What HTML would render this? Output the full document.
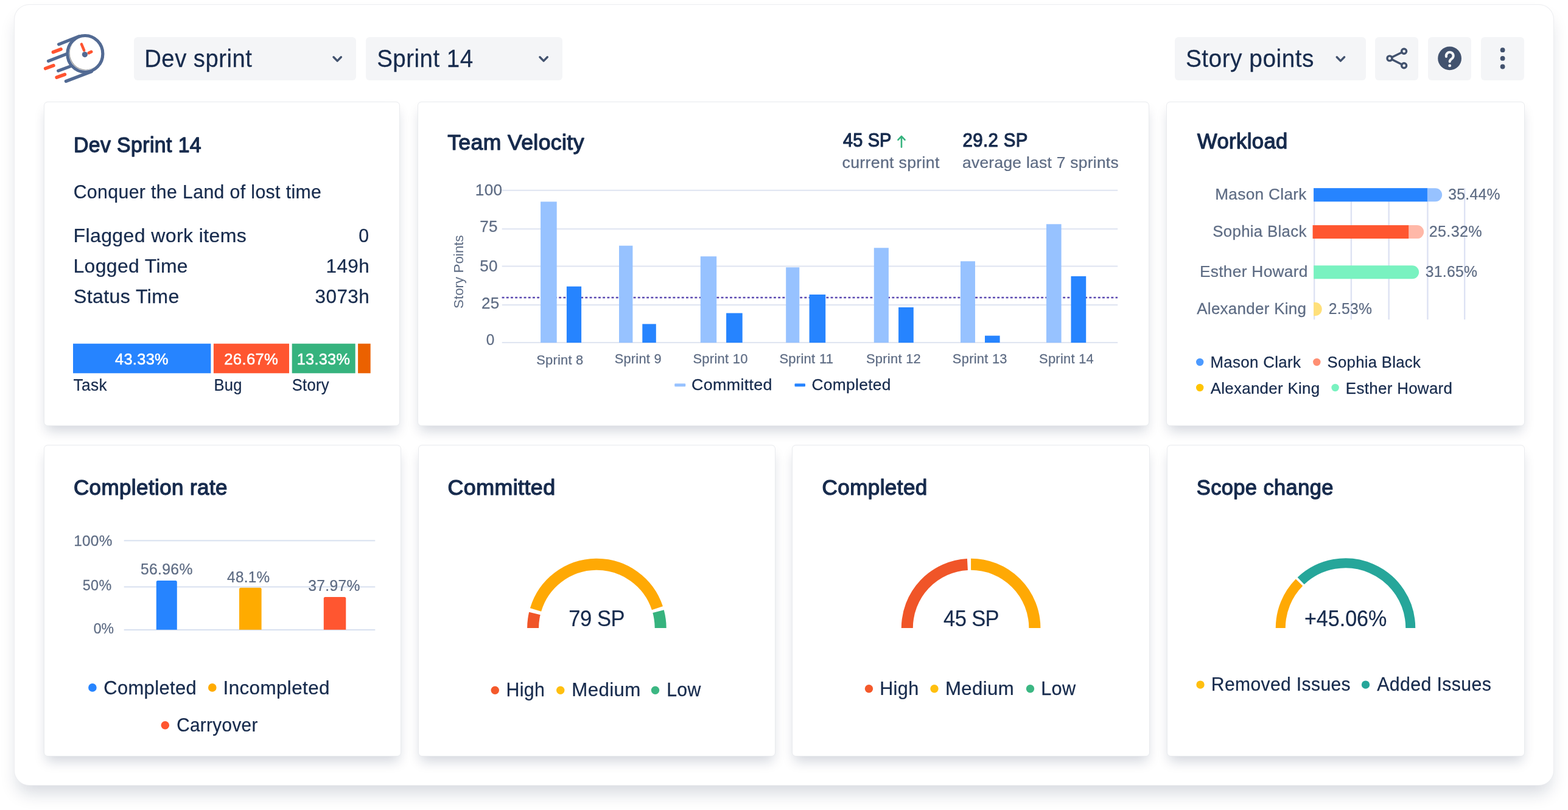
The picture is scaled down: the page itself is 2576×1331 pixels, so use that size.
<!DOCTYPE html>
<html lang="en"><head><meta charset="utf-8"><title>Sprint dashboard</title>
<style>
html,body{margin:0;padding:0;background:#fff}
body{width:2576px;height:1331px;position:relative;overflow:hidden;font-family:"Liberation Sans", sans-serif;color:#172B4D}
svg{position:absolute;left:0;top:0;overflow:visible}
svg text{font-family:"Liberation Sans", sans-serif;white-space:pre}

.frame{position:absolute;left:23px;top:7px;width:2530px;height:1284px;background:#fff;border-radius:25px;box-sizing:border-box;border:1px solid rgba(9,30,66,.08);
 box-shadow:0 18px 28px -6px rgba(9,30,66,.17)}
.hdr{left:0;top:0}
.btn{position:absolute;background:#F4F5F7;border-radius:6px}
.card{position:absolute;background:#fff;border-radius:6.5px;margin:0;box-sizing:border-box;border:1px solid rgba(9,30,66,.09);
 box-shadow:0 12px 20px -4px rgba(9,30,66,.18)}
.card>svg{left:-1px;top:-1px}
</style></head>
<body>
<main class="frame"></main>
<header><div class="btn" style="left:220px;top:61px;width:365px;height:71px"></div><div class="btn" style="left:601px;top:61px;width:323px;height:71px"></div><div class="btn" style="left:1930px;top:61px;width:314px;height:71px"></div><div class="btn" style="left:2259px;top:61px;width:71px;height:71px"></div><div class="btn" style="left:2346px;top:61px;width:71px;height:71px"></div><div class="btn" style="left:2433px;top:61px;width:71px;height:71px"></div><svg width="2576" height="166" viewBox="0 0 2576 166"><path d="M548.0 93.7 L554.2 100.1 L560.4 93.7" fill="none" stroke="#42526E" stroke-width="3.4" stroke-linecap="round" stroke-linejoin="round"/><path d="M886.9 93.7 L893.1 100.1 L899.3 93.7" fill="none" stroke="#42526E" stroke-width="3.4" stroke-linecap="round" stroke-linejoin="round"/><path d="M2196.2 93.7 L2202.4 100.1 L2208.6 93.7" fill="none" stroke="#42526E" stroke-width="3.4" stroke-linecap="round" stroke-linejoin="round"/><g fill="none" stroke="#42526E" stroke-width="3.4"><path d="M2303.2 86 L2286.4 94.3 M2286.4 97.6 L2303.2 106" stroke-linecap="round"/><circle cx="2306.6" cy="84.3" r="4"/><circle cx="2283" cy="95.9" r="4"/><circle cx="2306.6" cy="107.7" r="4"/></g><circle cx="2381.6" cy="95.9" r="19.4" fill="#42526E"/><path d="M2376 93 A5.9 5.9 0 1 1 2386.3 95.4 C2384.2 97.3 2381.7 98.4 2381.7 101.3" fill="none" stroke="#F4F5F7" stroke-width="4.1" stroke-linecap="round"/><circle cx="2381.7" cy="107.9" r="2.45" fill="#F4F5F7"/><circle cx="2468.6" cy="82.2" r="3.9" fill="#42526E"/><circle cx="2468.6" cy="95.9" r="3.9" fill="#42526E"/><circle cx="2468.6" cy="109.5" r="3.9" fill="#42526E"/><g fill="none" stroke-linecap="round"><ellipse cx="139.85" cy="88.4" rx="26" ry="26.9" fill="#9C9C9C" stroke="none"/><ellipse cx="141.1" cy="87.2" rx="26.3" ry="27.2" fill="#fff" stroke="none"/><g stroke="#526A93" stroke-width="5.2"><ellipse cx="139.85" cy="88.4" rx="29" ry="29.9"/><path d="M96.6 72.8 L130 59.6 M79.5 100.3 L110.3 88.3 M95.7 116.4 L115.2 109.1 M108.4 133.5 L150.4 117.5"/></g><g stroke="#FF5330" stroke-width="5.6"><path d="M87.4 85.7 L100 80.8 M74.7 112.5 L87.9 107.6 M93.2 127.2 L106.4 122.3"/></g><path d="M133.9 72.6 L138.1 82.6" stroke="#FF5330" stroke-width="4.5"/><path d="M146 86.9 L150 85.1" stroke="#FF5330" stroke-width="4.9"/><circle cx="139.4" cy="89.6" r="4.6" fill="#526A93" stroke="none"/></g><text transform="translate(237.26 109.90) scale(0.9522 1)" font-size="40.19" fill="#172B4D" letter-spacing="0.506" stroke="#172B4D" stroke-width="0.25" stroke-linejoin="round">Dev sprint</text><text transform="translate(619.16 109.90) scale(0.9583 1)" font-size="40.19" fill="#172B4D" letter-spacing="0.503" stroke="#172B4D" stroke-width="0.25" stroke-linejoin="round">Sprint 14</text><text transform="translate(1947.90 109.90) scale(0.9675 1)" font-size="40.19" fill="#172B4D" letter-spacing="0.498" stroke="#172B4D" stroke-width="0.25" stroke-linejoin="round">Story points</text></svg></header>
<section class="card" style="left:72px;top:167px;width:585px;height:533px"><svg width="585" height="533" viewBox="72 166.5 585 533"><rect x="120.00" y="564.20" width="226.40" height="48.60" fill="#2684FF"/><rect x="350.90" y="564.20" width="124.10" height="48.60" fill="#FF5630"/><rect x="479.70" y="564.20" width="104.00" height="48.60" fill="#36B37E"/><rect x="588.10" y="564.20" width="20.60" height="48.60" fill="#EB6100"/><text transform="translate(120.95 249.40) scale(0.9706 1)" font-size="34.81" fill="#172B4D" letter-spacing="0.430" stroke="#172B4D" stroke-width="1.33" stroke-linejoin="round">Dev Sprint 14</text><text transform="translate(120.65 325.00) scale(0.9760 1)" font-size="31.01" fill="#172B4D" letter-spacing="0.381" stroke="#172B4D" stroke-width="0.25" stroke-linejoin="round">Conquer the Land of lost time</text><text transform="translate(120.47 397.00) scale(1.0312 1)" font-size="31.11" fill="#172B4D" letter-spacing="0.362" stroke="#172B4D" stroke-width="0.25" stroke-linejoin="round">Flagged work items</text><text transform="translate(589.15 397.00) scale(0.9700 1)" font-size="31.11" fill="#172B4D" letter-spacing="0.000" stroke="#172B4D" stroke-width="0.25" stroke-linejoin="round">0</text><text transform="translate(120.48 447.00) scale(1.0253 1)" font-size="31.11" fill="#172B4D" letter-spacing="0.364" stroke="#172B4D" stroke-width="0.25" stroke-linejoin="round">Logged Time</text><text transform="translate(535.60 447.00) scale(1.0110 1)" font-size="31.11" fill="#172B4D" letter-spacing="0.369" stroke="#172B4D" stroke-width="0.25" stroke-linejoin="round">149h</text><text transform="translate(120.90 497.00) scale(1.0335 1)" font-size="31.11" fill="#172B4D" letter-spacing="0.361" stroke="#172B4D" stroke-width="0.25" stroke-linejoin="round">Status Time</text><text transform="translate(517.61 497.00) scale(1.0124 1)" font-size="31.11" fill="#172B4D" letter-spacing="0.369" stroke="#172B4D" stroke-width="0.25" stroke-linejoin="round">3073h</text><text transform="translate(189.01 598.20) scale(0.9945 1)" font-size="25.56" fill="#FFFFFF" letter-spacing="0.308" stroke="#FFFFFF" stroke-width="0.51" stroke-linejoin="round">43.33%</text><text transform="translate(368.25 598.20) scale(1.0061 1)" font-size="25.56" fill="#FFFFFF" letter-spacing="0.305" stroke="#FFFFFF" stroke-width="0.51" stroke-linejoin="round">26.67%</text><text transform="translate(487.66 598.20) scale(0.9897 1)" font-size="25.56" fill="#FFFFFF" letter-spacing="0.310" stroke="#FFFFFF" stroke-width="0.51" stroke-linejoin="round">13.33%</text><text transform="translate(120.62 641.10) scale(0.9762 1)" font-size="26.93" fill="#172B4D" letter-spacing="0.331" stroke="#172B4D" stroke-width="0.25" stroke-linejoin="round">Task</text><text transform="translate(351.47 641.10) scale(0.9489 1)" font-size="26.93" fill="#172B4D" letter-spacing="0.341" stroke="#172B4D" stroke-width="0.25" stroke-linejoin="round">Bug</text><text transform="translate(479.67 641.10) scale(0.9499 1)" font-size="26.93" fill="#172B4D" letter-spacing="0.340" stroke="#172B4D" stroke-width="0.25" stroke-linejoin="round">Story</text></svg></section>
<section class="card" style="left:686px;top:167px;width:1202px;height:533px"><svg width="1202" height="533" viewBox="686 166.5 1202 533"><rect x="824.7" y="311.25" width="1011.5" height="2" fill="#DEE4F1"/><rect x="824.7" y="374.75" width="1011.5" height="2" fill="#DEE4F1"/><rect x="824.7" y="436.00" width="1011.5" height="2" fill="#DEE4F1"/><rect x="824.7" y="499.60" width="1011.5" height="2" fill="#DEE4F1"/><rect x="824.7" y="561.40" width="1011.5" height="2" fill="#DEE4F1"/><line x1="824.6" x2="1836" y1="488.5" y2="488.5" stroke="#5A48B0" stroke-width="2.4" stroke-dasharray="3.9 3.3"/><rect x="888.10" y="330.90" width="26.60" height="231.70" fill="#97C2FF"/><rect x="930.90" y="470.20" width="24.20" height="92.40" fill="#2684FF"/><rect x="1017.00" y="403.20" width="22.40" height="159.40" fill="#97C2FF"/><rect x="1055.30" y="531.90" width="22.50" height="30.70" fill="#2684FF"/><rect x="1150.80" y="420.80" width="26.40" height="141.80" fill="#97C2FF"/><rect x="1193.10" y="514.00" width="26.60" height="48.60" fill="#2684FF"/><rect x="1291.20" y="438.80" width="22.10" height="123.80" fill="#97C2FF"/><rect x="1329.60" y="483.50" width="26.60" height="79.10" fill="#2684FF"/><rect x="1435.80" y="406.80" width="24.10" height="155.80" fill="#97C2FF"/><rect x="1476.10" y="504.50" width="24.70" height="58.10" fill="#2684FF"/><rect x="1578.00" y="428.80" width="24.00" height="133.80" fill="#97C2FF"/><rect x="1618.00" y="551.10" width="24.60" height="11.50" fill="#2684FF"/><rect x="1719.00" y="367.80" width="24.60" height="194.80" fill="#97C2FF"/><rect x="1759.50" y="453.40" width="24.70" height="109.20" fill="#2684FF"/><rect x="1108.25" y="629.70" width="18.00" height="5.10" fill="#97C2FF" rx="1.2"/><rect x="1305.50" y="629.70" width="17.50" height="5.10" fill="#2684FF" rx="1.2"/><path d="M1481 241.2 V223.6 M1475.4 229.4 L1481 223.4 L1486.6 229.4" fill="none" stroke="#36B37E" stroke-width="2.6" stroke-linecap="round" stroke-linejoin="round"/><text transform="translate(735.18 245.10) scale(1.0037 1)" font-size="35.40" fill="#172B4D" letter-spacing="0.423" stroke="#172B4D" stroke-width="1.35" stroke-linejoin="round">Team Velocity</text><text transform="translate(1384.95 240.90) scale(0.9400 1)" font-size="30.83" fill="#172B4D" letter-spacing="0.146" stroke="#172B4D" stroke-width="1.18" stroke-linejoin="round">45 SP</text><text transform="translate(1383.48 275.40) scale(1.0483 1)" font-size="25.50" fill="#5E6C84" letter-spacing="0.292" stroke="#5E6C84" stroke-width="0.25" stroke-linejoin="round">current sprint</text><text transform="translate(1581.51 240.90) scale(0.9540 1)" font-size="30.83" fill="#172B4D" letter-spacing="0.388" stroke="#172B4D" stroke-width="1.18" stroke-linejoin="round">29.2 SP</text><text transform="translate(1581.00 275.40) scale(1.0332 1)" font-size="25.50" fill="#5E6C84" letter-spacing="0.296" stroke="#5E6C84" stroke-width="0.25" stroke-linejoin="round">average last 7 sprints</text><text transform="translate(780.84 320.50) scale(1.0437 1)" font-size="25.09" fill="#5E6C84" letter-spacing="0.289" stroke="#5E6C84" stroke-width="0.25" stroke-linejoin="round">100</text><text transform="translate(788.34 380.70) scale(1.0382 1)" font-size="25.09" fill="#5E6C84" letter-spacing="0.290" stroke="#5E6C84" stroke-width="0.25" stroke-linejoin="round">75</text><text transform="translate(788.34 445.10) scale(1.0382 1)" font-size="25.09" fill="#5E6C84" letter-spacing="0.290" stroke="#5E6C84" stroke-width="0.25" stroke-linejoin="round">50</text><text transform="translate(791.09 506.50) scale(1.0382 1)" font-size="25.09" fill="#5E6C84" letter-spacing="0.290" stroke="#5E6C84" stroke-width="0.25" stroke-linejoin="round">25</text><text transform="translate(798.87 566.70) scale(0.9700 1)" font-size="25.09" fill="#5E6C84" letter-spacing="0.000" stroke="#5E6C84" stroke-width="0.25" stroke-linejoin="round">0</text><text transform="translate(881.14 598.05) scale(0.9823 1)" font-size="22.24" fill="#5E6C84" letter-spacing="0.272" stroke="#5E6C84" stroke-width="0.25" stroke-linejoin="round">Sprint 8</text><text transform="translate(1009.64 596.30) scale(0.9790 1)" font-size="22.24" fill="#5E6C84" letter-spacing="0.273" stroke="#5E6C84" stroke-width="0.25" stroke-linejoin="round">Sprint 9</text><text transform="translate(1138.38 596.30) scale(0.9891 1)" font-size="22.24" fill="#5E6C84" letter-spacing="0.270" stroke="#5E6C84" stroke-width="0.25" stroke-linejoin="round">Sprint 10</text><text transform="translate(1280.38 596.30) scale(0.9906 1)" font-size="22.24" fill="#5E6C84" letter-spacing="0.269" stroke="#5E6C84" stroke-width="0.25" stroke-linejoin="round">Sprint 11</text><text transform="translate(1422.94 596.30) scale(0.9857 1)" font-size="22.24" fill="#5E6C84" letter-spacing="0.271" stroke="#5E6C84" stroke-width="0.25" stroke-linejoin="round">Sprint 12</text><text transform="translate(1564.84 596.30) scale(0.9845 1)" font-size="22.24" fill="#5E6C84" letter-spacing="0.271" stroke="#5E6C84" stroke-width="0.25" stroke-linejoin="round">Sprint 13</text><text transform="translate(1707.04 596.30) scale(0.9845 1)" font-size="22.24" fill="#5E6C84" letter-spacing="0.271" stroke="#5E6C84" stroke-width="0.25" stroke-linejoin="round">Sprint 14</text><text transform="translate(1136.11 640.55) scale(1.0139 1)" font-size="26.52" fill="#172B4D" letter-spacing="0.314" stroke="#172B4D" stroke-width="0.25" stroke-linejoin="round">Committed</text><text transform="translate(1333.38 640.55) scale(0.9951 1)" font-size="26.52" fill="#172B4D" letter-spacing="0.320" stroke="#172B4D" stroke-width="0.25" stroke-linejoin="round">Completed</text><text transform="translate(760.5 506.47) rotate(-90) scale(0.97 1)" font-size="22.95" fill="#5E6C84" letter-spacing="0.068">Story Points</text></svg></section>
<section class="card" style="left:1916px;top:167px;width:589px;height:533px"><svg width="589" height="533" viewBox="1915.6 166.5 589 533"><rect x="2157.55" y="308.6" width="2.4" height="216" fill="#DDE2F3"/><rect x="2218.3" y="308.6" width="2.4" height="216" fill="#DDE2F3"/><rect x="2280.05" y="308.6" width="2.4" height="216" fill="#DDE2F3"/><rect x="2343.8" y="308.6" width="2.4" height="216" fill="#DDE2F3"/><rect x="2404.55" y="308.6" width="2.4" height="216" fill="#DDE2F3"/><path d="M2157.75 308.7 H2357.75 A11.00 11.00 0 0 1 2357.75 330.7 H2157.75 Z" fill="#97C2FF"/><rect x="2157.75" y="308.70" width="186.75" height="22.00" fill="#2684FF"/><path d="M2156.25 369.6 H2327.75 A11.00 11.00 0 0 1 2327.75 391.6 H2156.25 Z" fill="#FFB8A8"/><rect x="2156.25" y="369.60" width="157.50" height="22.00" fill="#FF5630"/><path d="M2157.75 435.7 H2319.75 A11.00 11.00 0 0 1 2319.75 457.7 H2157.75 Z" fill="#79F2C0"/><path d="M2157.75 496.3 H2160.15 A11.15 11.15 0 0 1 2160.15 518.6 H2157.75 Z" fill="#FFE07A"/><circle cx="1970.8" cy="594.5" r="6.2" fill="#4C9AFF"/><circle cx="2162.9" cy="594.5" r="6.2" fill="#FF8F73"/><circle cx="1970.8" cy="636.5" r="6.2" fill="#FFC400"/><circle cx="2193.2" cy="636.5" r="6.2" fill="#79F2C0"/><text transform="translate(1966.56 243.90) scale(0.9939 1)" font-size="34.81" fill="#172B4D" letter-spacing="0.420" stroke="#172B4D" stroke-width="1.33" stroke-linejoin="round">Workload</text><text transform="translate(1995.81 327.30) scale(1.0371 1)" font-size="25.30" fill="#5E6C84" letter-spacing="0.293" stroke="#5E6C84" stroke-width="0.25" stroke-linejoin="round">Mason Clark</text><text transform="translate(1991.86 388.55) scale(1.0220 1)" font-size="25.30" fill="#5E6C84" letter-spacing="0.297" stroke="#5E6C84" stroke-width="0.25" stroke-linejoin="round">Sophia Black</text><text transform="translate(1970.55 454.30) scale(1.0393 1)" font-size="25.30" fill="#5E6C84" letter-spacing="0.292" stroke="#5E6C84" stroke-width="0.25" stroke-linejoin="round">Esther Howard</text><text transform="translate(1965.88 515.55) scale(1.0243 1)" font-size="25.30" fill="#5E6C84" letter-spacing="0.296" stroke="#5E6C84" stroke-width="0.25" stroke-linejoin="round">Alexander King</text><text transform="translate(2378.87 327.30) scale(0.9762 1)" font-size="25.30" fill="#5E6C84" letter-spacing="0.311" stroke="#5E6C84" stroke-width="0.25" stroke-linejoin="round">35.44%</text><text transform="translate(2347.38 388.55) scale(0.9937 1)" font-size="25.30" fill="#5E6C84" letter-spacing="0.305" stroke="#5E6C84" stroke-width="0.25" stroke-linejoin="round">25.32%</text><text transform="translate(2341.37 454.30) scale(0.9762 1)" font-size="25.30" fill="#5E6C84" letter-spacing="0.311" stroke="#5E6C84" stroke-width="0.25" stroke-linejoin="round">31.65%</text><text transform="translate(2182.40 515.55) scale(0.9763 1)" font-size="25.30" fill="#5E6C84" letter-spacing="0.311" stroke="#5E6C84" stroke-width="0.25" stroke-linejoin="round">2.53%</text><text transform="translate(1988.07 603.60) scale(0.9756 1)" font-size="26.52" fill="#172B4D" letter-spacing="0.326" stroke="#172B4D" stroke-width="0.25" stroke-linejoin="round">Mason Clark</text><text transform="translate(2180.15 603.60) scale(0.9679 1)" font-size="26.52" fill="#172B4D" letter-spacing="0.329" stroke="#172B4D" stroke-width="0.25" stroke-linejoin="round">Sophia Black</text><text transform="translate(1988.32 646.50) scale(0.9745 1)" font-size="26.52" fill="#172B4D" letter-spacing="0.327" stroke="#172B4D" stroke-width="0.25" stroke-linejoin="round">Alexander King</text><text transform="translate(2210.47 646.50) scale(0.9769 1)" font-size="26.52" fill="#172B4D" letter-spacing="0.326" stroke="#172B4D" stroke-width="0.25" stroke-linejoin="round">Esther Howard</text></svg></section>
<section class="card" style="left:72px;top:731px;width:587px;height:512px"><svg width="587" height="512" viewBox="72 731.4 587 512"><rect x="203.7" y="887.80" width="412.59999999999997" height="2" fill="#D8E0EF"/><rect x="203.7" y="963.80" width="412.59999999999997" height="2" fill="#D8E0EF"/><rect x="203.7" y="1034.40" width="412.59999999999997" height="2" fill="#D8E0EF"/><path d="M256.8 1035.2 V956.8 Q256.8 954.3 259.3 954.3 H288.3 Q290.8 954.3 290.8 956.8 V1035.2 Z" fill="#2684FF"/><path d="M393 1035.2 V968.7 Q393 966.2 395.5 966.2 H427.1 Q429.6 966.2 429.6 968.7 V1035.2 Z" fill="#FFAB00"/><path d="M531.8 1035.2 V983.8 Q531.8 981.3 534.3 981.3 H565.8 Q568.3 981.3 568.3 983.8 V1035.2 Z" fill="#FF5630"/><circle cx="151.9" cy="1130.3" r="6.8" fill="#2684FF"/><circle cx="348.8" cy="1130.3" r="6.8" fill="#FFAB00"/><circle cx="271.3" cy="1192.2" r="6.8" fill="#FF5630"/><text transform="translate(120.91 813.30) scale(1.0049 1)" font-size="34.81" fill="#172B4D" letter-spacing="0.416" stroke="#172B4D" stroke-width="1.33" stroke-linejoin="round">Completion rate</text><text transform="translate(121.13 897.00) scale(0.9966 1)" font-size="24.48" fill="#5E6C84" letter-spacing="0.295" stroke="#5E6C84" stroke-width="0.25" stroke-linejoin="round">100%</text><text transform="translate(135.87 970.50) scale(0.9525 1)" font-size="24.48" fill="#5E6C84" letter-spacing="0.308" stroke="#5E6C84" stroke-width="0.25" stroke-linejoin="round">50%</text><text transform="translate(153.87 1041.25) scale(0.9400 1)" font-size="24.48" fill="#5E6C84" letter-spacing="-0.284" stroke="#5E6C84" stroke-width="0.25" stroke-linejoin="round">0%</text><text transform="translate(230.89 944.25) scale(0.9880 1)" font-size="25.09" fill="#5E6C84" letter-spacing="0.305" stroke="#5E6C84" stroke-width="0.25" stroke-linejoin="round">56.96%</text><text transform="translate(373.12 957.50) scale(0.9681 1)" font-size="25.09" fill="#5E6C84" letter-spacing="0.311" stroke="#5E6C84" stroke-width="0.25" stroke-linejoin="round">48.1%</text><text transform="translate(506.37 971.25) scale(0.9822 1)" font-size="25.09" fill="#5E6C84" letter-spacing="0.307" stroke="#5E6C84" stroke-width="0.25" stroke-linejoin="round">37.97%</text><text transform="translate(170.24 1141.10) scale(0.9776 1)" font-size="31.62" fill="#172B4D" letter-spacing="0.388" stroke="#172B4D" stroke-width="0.25" stroke-linejoin="round">Completed</text><text transform="translate(366.54 1141.10) scale(0.9937 1)" font-size="31.62" fill="#172B4D" letter-spacing="0.382" stroke="#172B4D" stroke-width="0.25" stroke-linejoin="round">Incompleted</text><text transform="translate(290.18 1202.20) scale(0.9400 1)" font-size="31.62" fill="#172B4D" letter-spacing="0.368" stroke="#172B4D" stroke-width="0.25" stroke-linejoin="round">Carryover</text></svg></section>
<section class="card" style="left:687px;top:731px;width:587px;height:512px"><svg width="587" height="512" viewBox="687 731.4 587 512"><path d="M875.60 1032.50 A104.8 104.8 0 0 1 878.41 1008.39" fill="none" stroke="#F05528" stroke-width="19"/><path d="M880.02 1002.38 A104.8 104.8 0 0 1 1079.90 999.59" fill="none" stroke="#FFA904" stroke-width="19"/><path d="M1081.53 1005.02 A104.8 104.8 0 0 1 1085.20 1032.50" fill="none" stroke="#36B37E" stroke-width="19"/><circle cx="813.25" cy="1134.7" r="6.7" fill="#F4592B"/><circle cx="920.75" cy="1134.7" r="6.7" fill="#FFBF0F"/><circle cx="1076.5" cy="1134.7" r="6.7" fill="#3CB783"/><text transform="translate(735.50 813.30) scale(1.0299 1)" font-size="34.81" fill="#172B4D" letter-spacing="0.406" stroke="#172B4D" stroke-width="1.33" stroke-linejoin="round">Committed</text><text transform="translate(934.18 1029.10) scale(0.9400 1)" font-size="36.72" fill="#172B4D" letter-spacing="-0.430" stroke="#172B4D" stroke-width="0.25" stroke-linejoin="round">79 SP</text><text transform="translate(831.38 1144.75) scale(0.9731 1)" font-size="31.21" fill="#172B4D" letter-spacing="0.385" stroke="#172B4D" stroke-width="0.25" stroke-linejoin="round">High</text><text transform="translate(939.32 1144.75) scale(1.0018 1)" font-size="31.21" fill="#172B4D" letter-spacing="0.374" stroke="#172B4D" stroke-width="0.25" stroke-linejoin="round">Medium</text><text transform="translate(1095.18 1144.75) scale(0.9695 1)" font-size="31.21" fill="#172B4D" letter-spacing="0.386" stroke="#172B4D" stroke-width="0.25" stroke-linejoin="round">Low</text></svg></section>
<section class="card" style="left:1301px;top:731px;width:588px;height:512px"><svg width="588" height="512" viewBox="1301 731.4 588 512"><path d="M1490.30 1032.50 A104.8 104.8 0 0 1 1589.43 927.85" fill="none" stroke="#F05528" stroke-width="19"/><path d="M1595.10 927.70 A104.8 104.8 0 0 1 1699.90 1032.50" fill="none" stroke="#FFA904" stroke-width="19"/><circle cx="1427.5" cy="1132.2" r="6.7" fill="#F4592B"/><circle cx="1535" cy="1132.2" r="6.7" fill="#FFBF0F"/><circle cx="1692.5" cy="1132.2" r="6.7" fill="#3CB783"/><text transform="translate(1350.51 813.30) scale(1.0072 1)" font-size="34.81" fill="#172B4D" letter-spacing="0.415" stroke="#172B4D" stroke-width="1.33" stroke-linejoin="round">Completed</text><text transform="translate(1550.12 1029.10) scale(0.9400 1)" font-size="36.72" fill="#172B4D" letter-spacing="-0.680" stroke="#172B4D" stroke-width="0.25" stroke-linejoin="round">45 SP</text><text transform="translate(1445.16 1142.75) scale(0.9805 1)" font-size="31.21" fill="#172B4D" letter-spacing="0.382" stroke="#172B4D" stroke-width="0.25" stroke-linejoin="round">High</text><text transform="translate(1552.88 1142.75) scale(0.9995 1)" font-size="31.21" fill="#172B4D" letter-spacing="0.375" stroke="#172B4D" stroke-width="0.25" stroke-linejoin="round">Medium</text><text transform="translate(1710.16 1142.75) scale(0.9829 1)" font-size="31.21" fill="#172B4D" letter-spacing="0.381" stroke="#172B4D" stroke-width="0.25" stroke-linejoin="round">Low</text></svg></section>
<section class="card" style="left:1917px;top:731px;width:588px;height:512px"><svg width="588" height="512" viewBox="1917 731.4 588 512"><path d="M2103.75 1032.50 A106.75 106.75 0 0 1 2134.49 957.55" fill="none" stroke="#FFA904" stroke-width="16"/><path d="M2137.15 954.94 A106.75 106.75 0 0 1 2317.25 1032.50" fill="none" stroke="#26A69A" stroke-width="16"/><circle cx="1972" cy="1125.5" r="6.7" fill="#FFBF0F"/><circle cx="2243.5" cy="1125.5" r="6.7" fill="#26A69A"/><text transform="translate(1965.77 813.30) scale(0.9886 1)" font-size="34.81" fill="#172B4D" letter-spacing="0.422" stroke="#172B4D" stroke-width="1.33" stroke-linejoin="round">Scope change</text><text transform="translate(2142.93 1029.10) scale(0.9400 1)" font-size="36.21" fill="#172B4D" letter-spacing="0.014" stroke="#172B4D" stroke-width="0.25" stroke-linejoin="round">+45.06%</text><text transform="translate(1989.82 1135.40) scale(0.9511 1)" font-size="31.62" fill="#172B4D" letter-spacing="0.399" stroke="#172B4D" stroke-width="0.25" stroke-linejoin="round">Removed Issues</text><text transform="translate(2262.22 1135.40) scale(0.9578 1)" font-size="31.62" fill="#172B4D" letter-spacing="0.396" stroke="#172B4D" stroke-width="0.25" stroke-linejoin="round">Added Issues</text></svg></section>

</body></html>
